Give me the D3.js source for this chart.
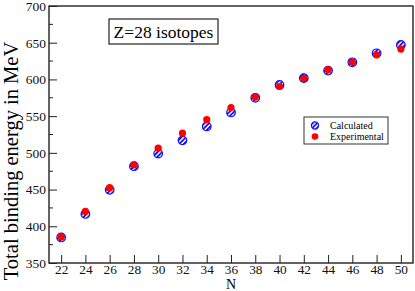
<!DOCTYPE html>
<html>
<head>
<meta charset="utf-8">
<script src="https://cdn.jsdelivr.net/npm/d3@7"></script>
<style>
  body { margin: 0; background: #fff; }
  svg { display: block; }
  svg text { font-family: "Liberation Serif", "Times New Roman", serif; }
</style>
</head>
<body>
<div id="chart"></div>
<script>
// neutron number N for the Z=28 (nickel) isotopes
const neutrons = [22, 24, 26, 28, 30, 32, 34, 36, 38, 40, 42, 44, 46, 48, 50];
// total binding energy in MeV
const calculated   = [384.8, 416.8, 449.6, 481.8, 499.0, 517.0, 536.0, 555.0, 575.0, 592.5, 601.8, 612.0, 623.3, 635.6, 647.0];
const experimental = [385.5, 420.4, 452.6, 483.5, 506.4, 526.8, 545.2, 561.7, 576.2, 590.4, 601.3, 613.3, 623.5, 633.4, 641.4];

const xTicks = [22, 24, 26, 28, 30, 32, 34, 36, 38, 40, 42, 44, 46, 48, 50];
const yTicks = [350, 400, 450, 500, 550, 600, 650, 700];
const yMinorTicks = [375, 425, 475, 525, 575, 625, 675];

const legendItems = ["Calculated", "Experimental"];

const W = 415, H = 291;
const margin = { top: 6, right: 2, bottom: 28, left: 49 };
const width = W - margin.left - margin.right,
      height = H - margin.top - margin.bottom;
const serif = "'Liberation Serif', 'Times New Roman', serif";

const svg = d3.select("#chart").append("svg")
    .attr("width", W)
    .attr("height", H);

// hatch pattern for the calculated markers
const defs = svg.append("defs");
const pat = defs.append("pattern")
    .attr("id", "hatch")
    .attr("patternUnits", "userSpaceOnUse")
    .attr("width", 3.2)
    .attr("height", 3.2)
    .attr("patternTransform", "rotate(45)");
pat.append("rect").attr("width", 3.2).attr("height", 3.2).attr("fill", "white");
pat.append("rect").attr("width", 1.8).attr("height", 3.2).attr("fill", "#1010ee");

const g = svg.append("g")
    .attr("transform", `translate(${margin.left},${margin.top})`);

const x = d3.scaleLinear().domain([21, 51]).range([0, width]);
const y = d3.scaleLinear().domain([350, 700]).range([height, 0]);

// frame
g.append("rect")
    .attr("x", 0).attr("y", 0)
    .attr("width", width).attr("height", height)
    .attr("fill", "none")
    .attr("stroke", "#222")
    .attr("stroke-width", 1.4);

// x axis, ticks pointing inward
const xAxis = g.append("g")
    .attr("transform", `translate(0,${height})`)
    .call(d3.axisBottom(x).tickValues(xTicks).tickSizeInner(-8).tickSizeOuter(0).tickPadding(1.5))
    .attr("font-family", serif)
    .attr("font-size", 13.3);
xAxis.select(".domain").remove();
xAxis.selectAll("line").attr("stroke", "#222");
xAxis.selectAll("text").attr("fill", "#111");

// y axis
const yAxis = g.append("g")
    .call(d3.axisLeft(y).tickValues(yTicks).tickSizeInner(-8).tickSizeOuter(0).tickPadding(3))
    .attr("font-family", serif)
    .attr("font-size", 13.5);
yAxis.select(".domain").remove();
yAxis.selectAll("line").attr("stroke", "#222");
yAxis.selectAll("text").attr("fill", "#111");

g.append("g").selectAll("line")
    .data(yMinorTicks)
    .enter().append("line")
    .attr("x1", 0).attr("x2", 4)
    .attr("y1", d => y(d)).attr("y2", d => y(d))
    .attr("stroke", "#222");

// axis titles
svg.append("text")
    .attr("transform", `translate(${margin.left + width / 2}, 288.5)`)
    .attr("text-anchor", "middle")
    .style("font-size", "14px")
    .text("N");

svg.append("text")
    .attr("transform", "translate(18,161) rotate(-90)")
    .attr("text-anchor", "middle")
    .style("font-size", "20.5px")
    .text("Total binding energy in MeV");

// title box
svg.append("rect")
    .attr("x", 109).attr("y", 19)
    .attr("width", 109).attr("height", 25)
    .attr("fill", "white")
    .attr("stroke", "#222")
    .attr("stroke-width", 1.2);
svg.append("text")
    .attr("x", 163.5).attr("y", 38)
    .attr("text-anchor", "middle")
    .style("font-size", "17.5px")
    .text("Z=28 isotopes");

// markers
g.append("g").selectAll("circle")
    .data(neutrons)
    .enter().append("circle")
    .attr("cx", d => x(d))
    .attr("cy", (d, i) => y(calculated[i]))
    .attr("r", 4.3)
    .attr("fill", "url(#hatch)")
    .attr("stroke", "#1010ee")
    .attr("stroke-width", 1.2);

g.append("g").selectAll("circle")
    .data(neutrons)
    .enter().append("circle")
    .attr("cx", d => x(d))
    .attr("cy", (d, i) => y(experimental[i]))
    .attr("r", 3.6)
    .attr("fill", "#ff0000");

// legend
const legend = svg.append("g").attr("transform", "translate(304,117)");
legend.append("rect")
    .attr("width", 84).attr("height", 27)
    .attr("fill", "white")
    .attr("stroke", "#333")
    .attr("stroke-width", 1);
legend.selectAll("text")
    .data(legendItems)
    .enter().append("text")
    .attr("x", 26)
    .attr("y", (d, i) => 11.5 + i * 11)
    .style("font-size", "10px")
    .text(d => d);
legend.append("circle")
    .attr("cx", 11).attr("cy", 8.5).attr("r", 3.6)
    .attr("fill", "url(#hatch)")
    .attr("stroke", "#1010ee")
    .attr("stroke-width", 1.2);
legend.append("circle")
    .attr("cx", 11).attr("cy", 19.5).attr("r", 3.3)
    .attr("fill", "#ff0000");
</script>
</body>
</html>
